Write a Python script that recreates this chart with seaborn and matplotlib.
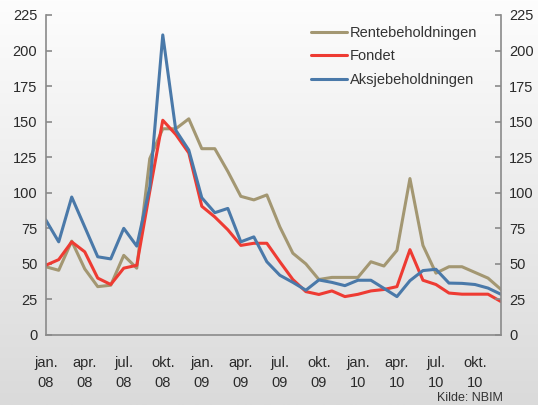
import numpy as np
import pandas as pd
import seaborn as sns
import matplotlib.pyplot as plt
from matplotlib.lines import Line2D

months = pd.date_range("2008-01-01", "2010-12-01", freq="MS")
rente = [48, 45.5, 66, 46.5, 34, 35, 56, 47, 124, 145, 145, 152,
         131, 131, 115, 97.5, 95, 98.5, 76, 57.5, 50, 39, 40.5, 40.5,
         40.5, 51.5, 48.5, 59.5, 110, 63, 43.5, 48, 48, 44, 40, 32]
fondet = [49, 53, 65.5, 58.5, 40, 35.5, 47, 49, 101, 151, 141, 128,
          90.5, 83, 74, 63, 64.5, 64.5, 51.5, 39, 30.5, 28.5, 31, 27,
          28.6, 31, 32, 34, 60, 38.5, 35.5, 29.5, 28.7, 28.7, 28.7, 23.5]
aksje = [81, 65.5, 97, 76, 55, 53.5, 75, 62.5, 104, 211, 144, 130,
         96.5, 86, 89, 65.5, 69, 51.5, 42, 37, 31.5, 38.7, 37, 34.7,
         38.5, 38.5, 32.8, 27, 38.2, 45.3, 46.2, 36.5, 36.3, 35.5, 33, 28.6]
series_names = ["Rentebeholdningen", "Fondet", "Aksjebeholdningen"]
colors = ["#a39772", "#ee3b33", "#4a79a9"]
tick_labels = ["jan.\n08", "apr.\n08", "jul.\n08", "okt.\n08",
               "jan.\n09", "apr.\n09", "jul.\n09", "okt.\n09",
               "jan.\n10", "apr.\n10", "jul.\n10", "okt.\n10"]
y_ticks = [0, 25, 50, 75, 100, 125, 150, 175, 200, 225]

x = np.arange(len(months))
df = pd.DataFrame({"x": np.tile(x, 3),
                   "verdi": rente + fondet + aksje,
                   "serie": np.repeat(series_names, len(months))})

sns.set_style("white")
plt.rcParams["font.family"] = ["Liberation Sans", "DejaVu Sans"]
plt.rcParams["font.size"] = 10.5

fig = plt.figure(figsize=(5.38, 4.05), dpi=100)
# background gradient
bg = fig.add_axes([0, 0, 1, 1], zorder=-10)
grad = np.linspace(0, 1, 256).reshape(-1, 1)
bg.imshow(grad, aspect="auto", cmap=plt.matplotlib.colors.LinearSegmentedColormap.from_list(
    "g", ["#fdfdfd", "#dadada"]), extent=[0, 1, 0, 1], origin="upper")
bg.axis("off")

ax = fig.add_axes([45.7 / 538, 70 / 405, (501 - 45.7) / 538, 320 / 405])
ax.set_facecolor("none")
sns.lineplot(data=df, x="x", y="verdi", hue="serie", palette=colors,
             hue_order=series_names, linewidth=2.2, ax=ax, legend=False)

gray = "#8a8a8a"
txt = "#2a2a2a"
ax.set_xlim(0, len(months) - 1)
ax.set_ylim(0, 225)
ax.set_xticks(x[::3])
ax.set_xticklabels(tick_labels, linespacing=1.55)
ax.set_yticks(y_ticks)
ax.set_xlabel("")
ax.set_ylabel("")
for s in ["left", "bottom", "right"]:
    ax.spines[s].set_color(gray)
    ax.spines[s].set_linewidth(1.2)
ax.spines["top"].set_visible(False)
ax.tick_params(axis="both", direction="in", length=4, color=gray,
               labelsize=10.5, labelcolor=txt, width=1.2)
ax.tick_params(axis="x", pad=15)
ax.tick_params(axis="y", pad=6)

ax2 = ax.twinx()
ax2.set_ylim(0, 225)
ax2.set_yticks(y_ticks)
ax2.tick_params(axis="y", direction="in", length=4, color=gray,
                labelsize=10.5, labelcolor=txt, width=1.2, pad=6)
for s in ax2.spines.values():
    s.set_visible(False)

handles = [Line2D([], [], color=c, lw=2.2) for c in colors]
fig.legend(handles, series_names, loc="upper left",
           bbox_to_anchor=(311 / 538, 1 - 26 / 405), frameon=False,
           handlelength=2.5, handletextpad=0.15, labelspacing=0.65,
           borderpad=0, borderaxespad=0, fontsize=10.5, labelcolor="#333333")

fig.text(503 / 538, 1 - 398 / 405, "Kilde: NBIM", ha="right", va="center",
         fontsize=9, color="#333333")

fig.savefig("out.png", dpi=100)
